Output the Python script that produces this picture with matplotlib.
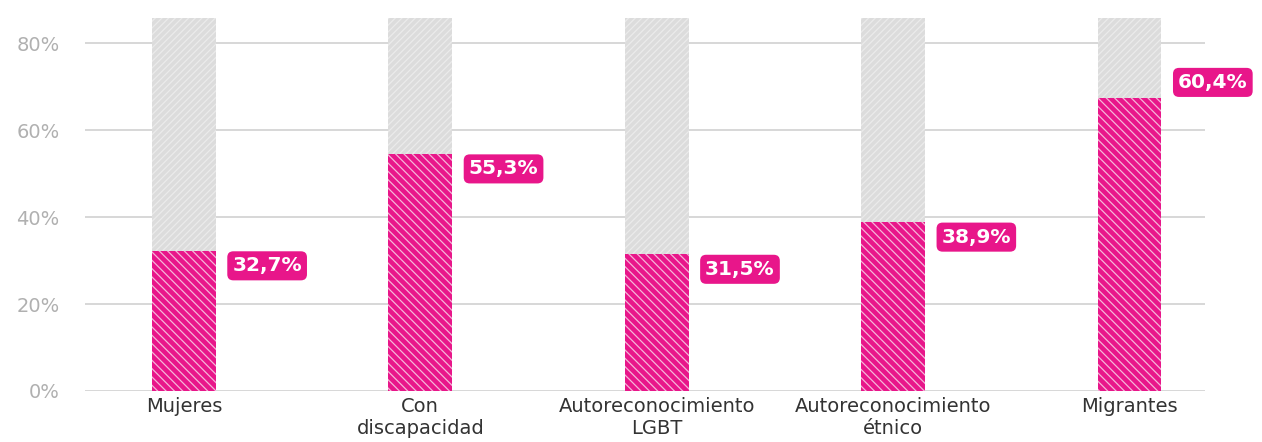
import matplotlib.pyplot as plt

plt.rcParams['hatch.linewidth'] = 0.9

# datos
categorias = ["Mujeres", "Con\ndiscapacidad", "Autoreconocimiento\nLGBT",
              "Autoreconocimiento\nétnico", "Migrantes"]
valores = [32.3, 54.6, 31.5, 38.9, 67.5]
etiquetas = ["32,7%", "55,3%", "31,5%", "38,9%", "60,4%"]
fondo = [85.8, 85.8, 85.8, 85.8, 85.8]
ticks_y = [0, 20, 40, 60, 80]

rosa = "#e8168a"
x = list(range(len(categorias)))

fig = plt.figure(figsize=(12.62, 4.42), dpi=100)
ax = fig.add_axes([0.067, 0.1154, 0.888, 0.885])

# barras de fondo (gris) y barras rosas
ax.bar(x, fondo, width=0.27, color="#dcdcdc", edgecolor="#ebebeb",
       hatch="/////", linewidth=0, zorder=2)
ax.bar(x, valores, width=0.27, color=rosa, edgecolor="#f5b5d8",
       hatch="\\\\\\\\", linewidth=0, zorder=3)

# etiquetas con caja rosa
desplaz = [-3.5, -3.5, -3.5, -3.5, 3.5]
for xi, v, t, d in zip(x, valores, etiquetas, desplaz):
    ax.text(xi + 0.205, v + d, t, color="white", fontsize=14.5,
            fontweight="bold", ha="left", va="center", zorder=5,
            bbox=dict(boxstyle="round,pad=0.25,rounding_size=0.3",
                      fc=rosa, ec="none"))

ax.set_xlim(-0.42, 4.32)
ax.set_ylim(0, 90)
ax.set_yticks(ticks_y)
ax.set_yticklabels([f"{t}%" for t in ticks_y])
ax.set_xticks(x)
ax.set_xticklabels(categorias, fontsize=14, color="#333333",
                   linespacing=1.25)
ax.tick_params(axis="y", length=0, pad=18, labelsize=14,
               labelcolor="#b0b0b0")
ax.tick_params(axis="x", length=0, pad=4)
ax.grid(axis="y", color="#d4d4d4", linewidth=1.3, zorder=0)
ax.set_axisbelow(True)
for s in ax.spines.values():
    s.set_visible(False)

fig.savefig("out.png", dpi=100)
